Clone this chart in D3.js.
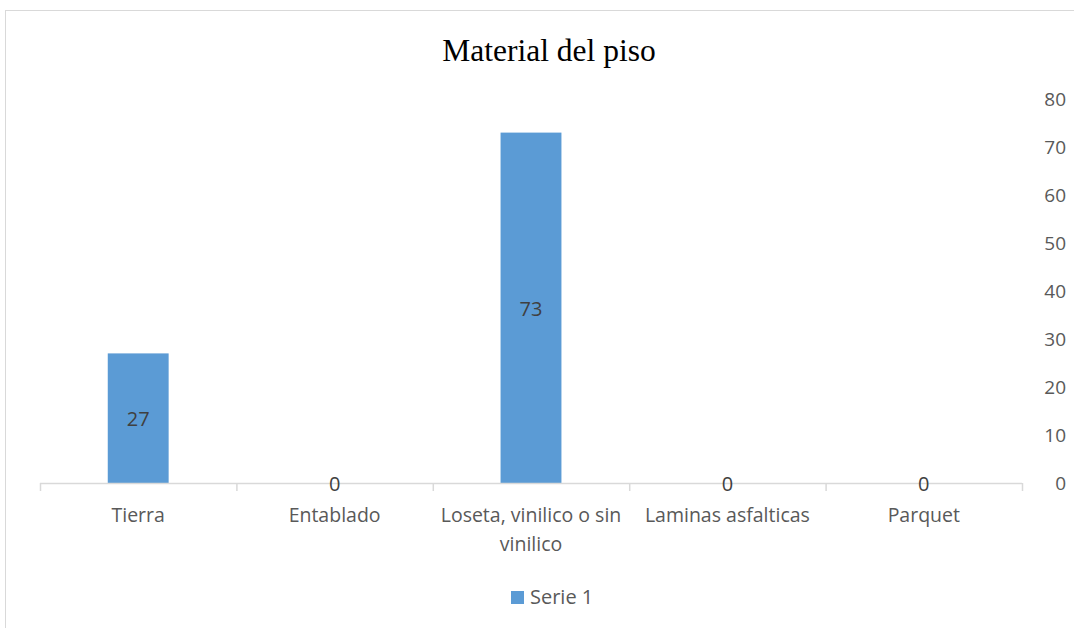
<!DOCTYPE html>
<html>
<head>
<meta charset="utf-8">
<script src="https://cdn.jsdelivr.net/npm/d3@7"></script>
<style>
  body { margin: 0; background: #fff; }
  svg { display: block; }
</style>
</head>
<body>
<svg id="chart"></svg>
<script>
const categories = ["Tierra", "Entablado", "Loseta, vinilico o sin vinilico", "Laminas asfalticas", "Parquet"];
const values = [27, 0, 73, 0, 0];
const yTicks = [0, 10, 20, 30, 40, 50, 60, 70, 80];
const seriesName = "Serie 1";
const title = "Material del piso";

const width = 1074, height = 628;
const svg = d3.select("#chart").attr("width", width).attr("height", height);

const labelFont = "'Open Sans', 'Noto Sans', sans-serif";

// chart area border
svg.append("rect")
  .attr("x", 5.5).attr("y", 10.5)
  .attr("width", 1100).attr("height", 700)
  .attr("fill", "none").attr("stroke", "#d9d9d9");

const x = d3.scaleBand().domain(categories).range([40, 1022]).paddingInner(0).paddingOuter(0);
const y = d3.scaleLinear().domain([0, 80]).range([483, 99]);

svg.append("text")
  .attr("x", 549).attr("y", 61)
  .attr("text-anchor", "middle")
  .attr("font-family", "'Liberation Serif', 'Times New Roman', serif")
  .attr("font-size", 31.5)
  .attr("fill", "#000")
  .text(title);

// y axis (right side, no line)
svg.append("g")
  .selectAll("text")
  .data(yTicks)
  .join("text")
  .attr("x", 1066)
  .attr("y", d => y(d))
  .attr("dy", "0.36em")
  .attr("text-anchor", "end")
  .attr("font-family", labelFont)
  .attr("font-size", 19)
  .attr("fill", "#595959")
  .text(d => d);

// bars
const barW = x.bandwidth() * 0.31;
svg.append("g")
  .selectAll("rect")
  .data(values)
  .join("rect")
  .attr("x", (d, i) => x(categories[i]) + x.bandwidth() / 2 - barW / 2)
  .attr("y", d => y(d))
  .attr("width", barW)
  .attr("height", d => y(0) - y(d))
  .attr("fill", "#5b9bd5");

// x axis
const xAxis = svg.append("g");
xAxis.append("line")
  .attr("x1", 40).attr("x2", 1022)
  .attr("y1", y(0) + 0.5).attr("y2", y(0) + 0.5)
  .attr("stroke", "#d9d9d9").attr("stroke-width", 1.5);
const edges = categories.map(c => x(c)).concat([x.range()[1]]);
xAxis.selectAll("line.tick")
  .data(edges)
  .join("line")
  .attr("class", "tick")
  .attr("x1", d => d + 0.5).attr("x2", d => d + 0.5)
  .attr("y1", y(0)).attr("y2", y(0) + 8)
  .attr("stroke", "#d9d9d9").attr("stroke-width", 1.5);

// category labels, wrapped to band width
const catText = xAxis.selectAll("text")
  .data(categories)
  .join("text")
  .attr("x", d => x(d) + x.bandwidth() / 2)
  .attr("y", 522)
  .attr("text-anchor", "middle")
  .attr("font-family", labelFont)
  .attr("font-size", 19.5)
  .attr("fill", "#595959");

catText.each(function(d) {
  const t = d3.select(this);
  const words = d.split(" ");
  const cx = +t.attr("x");
  let line = [];
  let tspan = t.append("tspan").attr("x", cx).attr("dy", 0);
  words.forEach(w => {
    line.push(w);
    tspan.text(line.join(" "));
    if (tspan.node().getComputedTextLength() > x.bandwidth() + 4 && line.length > 1) {
      line.pop();
      tspan.text(line.join(" "));
      line = [w];
      tspan = t.append("tspan").attr("x", cx).attr("dy", 29).text(w);
    }
  });
});

// data labels
svg.append("g")
  .selectAll("text")
  .data(values)
  .join("text")
  .attr("x", (d, i) => x(categories[i]) + x.bandwidth() / 2)
  .attr("y", d => d > 0 ? (y(d) + y(0)) / 2 + 1 : y(0) + 1)
  .attr("dy", "0.36em")
  .attr("text-anchor", "middle")
  .attr("font-family", labelFont)
  .attr("font-size", 20)
  .attr("fill", "#404040")
  .text(d => d);

// legend
const legend = svg.append("g");
legend.append("rect")
  .attr("x", 511).attr("y", 591)
  .attr("width", 13).attr("height", 13)
  .attr("fill", "#5b9bd5");
legend.append("text")
  .attr("x", 530).attr("y", 597)
  .attr("dy", "0.36em")
  .attr("font-family", labelFont)
  .attr("font-size", 20)
  .attr("fill", "#595959")
  .text(seriesName);
</script>
</body>
</html>
